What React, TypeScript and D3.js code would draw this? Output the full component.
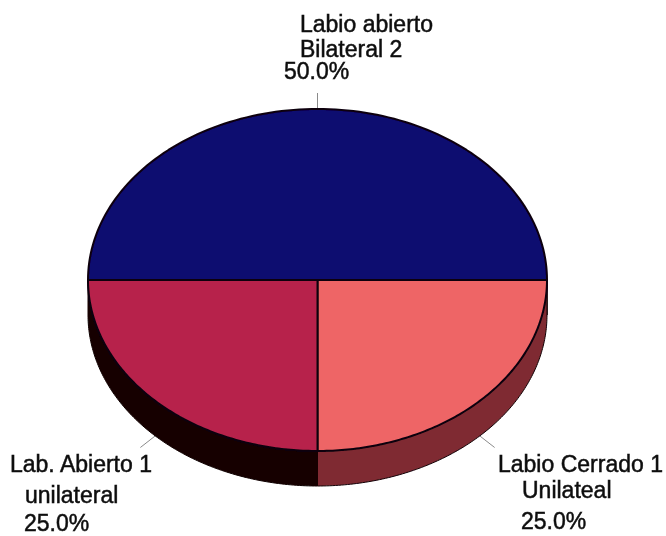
import React from "react";
import * as d3 from "d3";

// Share of cases per cleft type
const categories = ["Labio abierto Bilateral 2", "Labio Cerrado 1 Unilateal", "Lab. Abierto 1 unilateral"];
const shares = [50, 25, 25];
const labelLines = [
  ["Labio abierto", "Bilateral 2", "50.0%"],
  ["Labio Cerrado 1", "Unilateal", "25.0%"],
  ["Lab. Abierto 1", "unilateral", "25.0%"],
];
const faceColors = ["#08086f", "#ee6566", "#b7234b"];
const wallColors = ["#05052f", "#7f2c32", "#140305"];

// Hand-placed label rows (x, baseline) for each slice
const labelRows = [
  [[300, 32], [300, 57], [284, 79]],
  [[498, 472], [522, 498], [521, 529]],
  [[10, 472], [25, 503], [24, 531]],
];

const WIDTH = 666;
const HEIGHT = 536;
const cx = 317.5;
const cy = 280;
const rx = 229.5;
const ry = 171;
const depth = 35;

const xScale = d3.scaleLinear().domain([-1, 1]).range([cx - rx, cx + rx]);
const yScale = d3.scaleLinear().domain([-1, 1]).range([cy - ry, cy + ry]);

// d3 arc angles run clockwise from 12 o'clock
const ellipsePoint = (a: number, drop = 0): [number, number] => [
  xScale(Math.sin(a)),
  yScale(-Math.cos(a)) + drop,
];

const pieLayout = d3
  .pie<number>()
  .sort(null)
  .startAngle(-Math.PI / 2)
  .endAngle((3 * Math.PI) / 2);

const line = d3.line();

function facePath(start: number, end: number): string {
  const pts = d3.range(0, 121).map((i) => ellipsePoint(start + ((end - start) * i) / 120));
  return line([[cx, cy], ...pts])! + "Z";
}

function wallPath(start: number, end: number): string {
  // Only the front half of the rim (angles between 90° and 270°) is visible
  const s = Math.max(start, Math.PI / 2);
  const e = Math.min(end, (3 * Math.PI) / 2);
  if (e <= s) return "";
  const top = d3.range(0, 121).map((i) => ellipsePoint(s + ((e - s) * i) / 120));
  const bottom = top.map((_, i) => ellipsePoint(e - ((e - s) * i) / 120, depth));
  return line([...top, ...bottom])! + "Z";
}

export default function App() {
  const arcs = pieLayout(shares);
  return (
    <svg
      width={WIDTH}
      height={HEIGHT}
      viewBox={`0 0 ${WIDTH} ${HEIGHT}`}
      style={{ position: "absolute", left: 0, top: 0, background: "#fff" }}
      fontFamily="'Liberation Sans', Arial, sans-serif"
    >
      <defs>
        <filter id="soft" x="-5%" y="-5%" width="110%" height="110%">
          <feGaussianBlur stdDeviation="0.55" />
        </filter>
      </defs>
      <g filter="url(#soft)">
        {arcs.map((d, i) => {
          const mid = (d.startAngle + d.endAngle) / 2;
          const front = Math.cos(mid) < 0;
          const [x0, y0] = ellipsePoint(mid, front ? depth : 0);
          const ux = Math.sin(mid);
          const uy = -Math.cos(mid);
          const len = front ? 21 : 16;
          return (
            <line
              key={categories[i]}
              x1={x0}
              y1={y0}
              x2={x0 + ux * len}
              y2={y0 + uy * len * (front ? 0.78 : 1)}
              stroke="#8a8a8a"
              strokeWidth={1}
            />
          );
        })}
        {arcs.map((d, i) => (
          <path
            key={categories[i]}
            d={wallPath(d.startAngle, d.endAngle)}
            fill={wallColors[i]}
            stroke="#120306"
            strokeWidth={1}
          />
        ))}
        {arcs.map((d, i) => (
          <path
            key={categories[i]}
            d={facePath(d.startAngle, d.endAngle)}
            fill={faceColors[i]}
            stroke="#0c030f"
            strokeWidth={2}
            strokeLinejoin="round"
          />
        ))}
        {labelLines.map((rows, i) =>
          rows.map((row, j) => (
            <text
              key={row + j}
              x={labelRows[i][j][0]}
              y={labelRows[i][j][1]}
              fontSize={23}
              fill="#111"
              stroke="#111"
              strokeWidth={0.5}
            >
              {row}
            </text>
          ))
        )}
      </g>
    </svg>
  );
}
